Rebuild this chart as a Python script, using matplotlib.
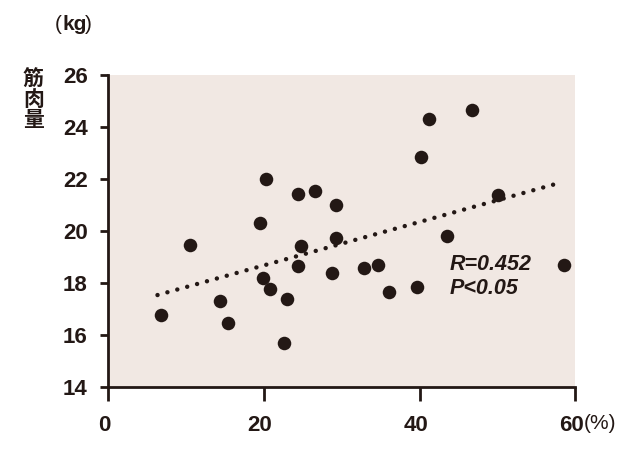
import numpy as np
import matplotlib.pyplot as plt
import matplotlib.transforms as mtransforms

plt.rcParams['font.family'] = ['Liberation Sans', 'Noto Sans CJK JP']

# body fat (%) vs muscle mass (kg)
fat_pct = [6.7, 10.5, 14.3, 15.4, 19.5, 20.2, 19.9, 20.8, 22.5, 22.9,
           24.3, 24.3, 24.7, 26.6, 29.3, 29.2, 28.7, 32.8, 34.7, 36.0,
           39.7, 40.1, 41.2, 46.7, 43.5, 50.0, 58.5]
muscle_kg = [16.78, 19.47, 17.33, 16.48, 20.30, 21.99, 18.19, 17.78, 15.69, 17.38,
             21.43, 18.66, 19.43, 21.54, 21.00, 19.73, 18.38, 18.60, 18.70, 17.67,
             17.87, 22.86, 24.31, 24.66, 19.83, 21.38, 18.70]
fit_slope = 0.0834
fit_intercept = 17.02
fit_range = [6.3, 58.0]
x_ticks = [0, 20, 40, 60]
y_ticks = [14, 16, 18, 20, 22, 24, 26]
stats_lines = ['R=0.452', 'P<0.05']

ink = '#231815'
panel = '#F1E8E3'

fig = plt.figure(figsize=(6.4, 4.53), dpi=100)
ax = fig.add_axes([0.1695, 0.145, 0.7295, 0.6894])
ax.set_facecolor(panel)

xs = np.array(fit_range)
ax.plot(xs, fit_intercept + fit_slope * xs, color=ink, lw=3.2,
        linestyle=(0, (0.01, 2.3)), dash_capstyle='round', zorder=2)
ax.scatter(fat_pct, muscle_kg, s=95, color=ink, zorder=3, linewidths=0)

ax.set_xlim(0, 60)
ax.set_ylim(14, 26)
ax.set_xticks(x_ticks)
ax.set_yticks(y_ticks)
ax.set_xticklabels([str(t) for t in x_ticks], fontsize=16, fontweight='bold', color=ink)
ax.set_yticklabels([str(t) for t in y_ticks], fontsize=16, fontweight='bold', color=ink)
ax.tick_params(axis='x', length=10, width=2, color=ink, pad=10)
ax.tick_params(axis='y', length=6, width=2, color=ink, pad=9)
# x labels sit a little left of their ticks in the original
shift = mtransforms.ScaledTranslation(-4 / 100, 0, fig.dpi_scale_trans)
for lab in ax.get_xticklabels():
    lab.set_transform(lab.get_transform() + shift)
for side in ['top', 'right']:
    ax.spines[side].set_visible(False)
for side in ['left', 'bottom']:
    ax.spines[side].set_linewidth(2)
    ax.spines[side].set_color(ink)

ax.text(43.9, 18.70, stats_lines[0], fontsize=15.5, fontweight='bold', style='italic',
        color=ink, ha='left', va='center')
ax.text(43.9, 17.80, stats_lines[1], fontsize=15.5, fontweight='bold', style='italic',
        color=ink, ha='left', va='center')

# unit labels
fig.text(0.097, 0.945, '(', fontsize=15, color=ink, ha='right', va='center')
fig.text(0.097, 0.945, 'kg', fontsize=15, fontweight='bold', color=ink,
         ha='left', va='center')
fig.text(0.133, 0.945, ')', fontsize=15, color=ink, ha='left', va='center')
fig.text(0.052, 0.78, '筋\n肉\n量', fontsize=15, fontweight='bold', color=ink,
         ha='center', va='center', linespacing=0.95,
         family=['Noto Sans CJK JP'])
fig.text(0.912, 0.066, '(%)', fontsize=15, color=ink, ha='left', va='center')

fig.savefig('out.png', dpi=100)
